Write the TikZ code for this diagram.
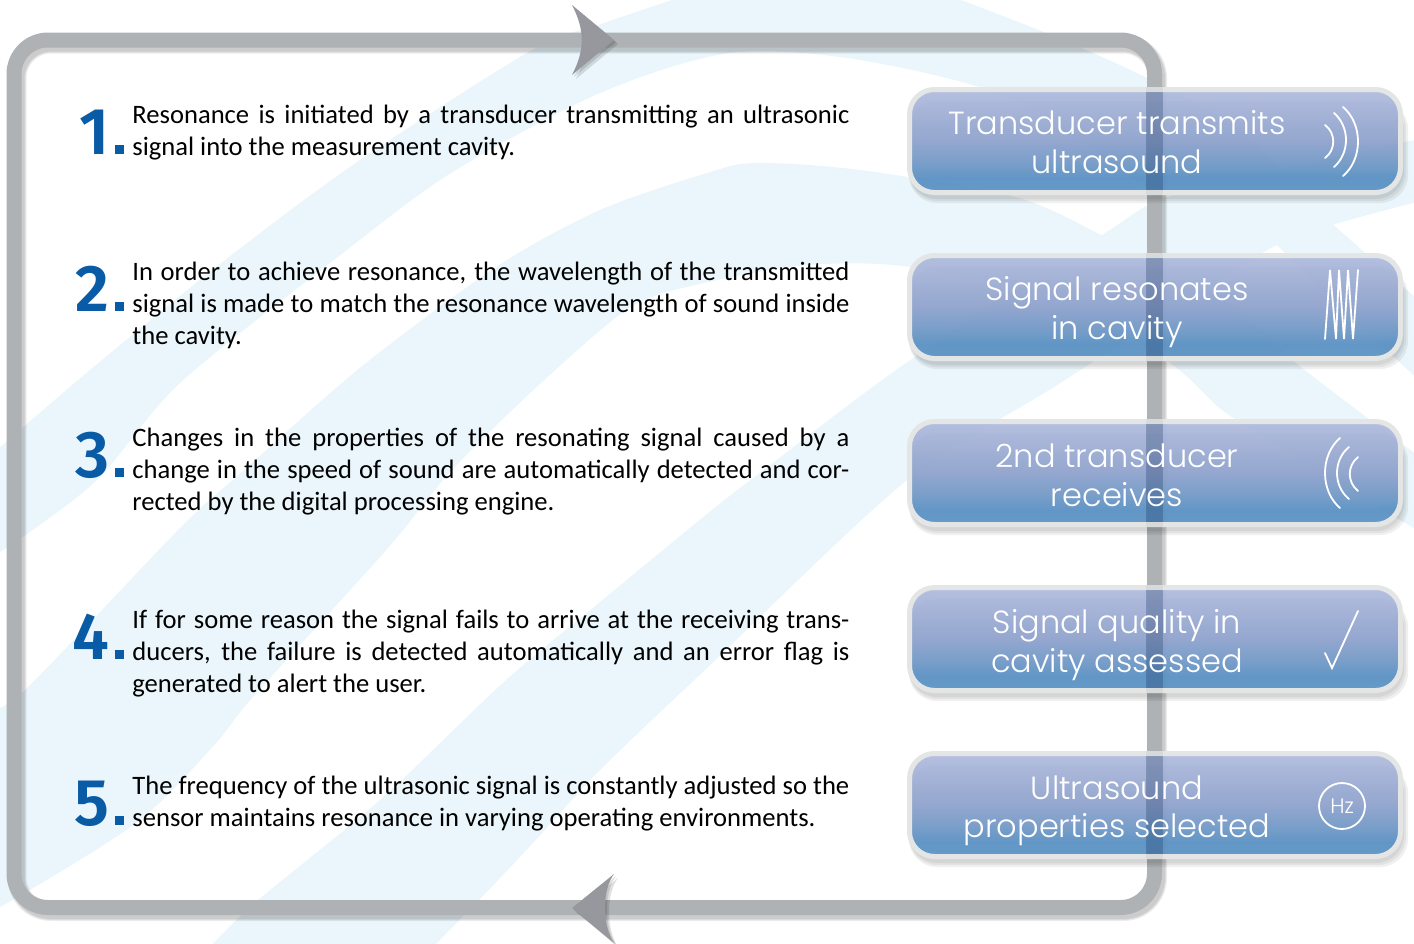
\documentclass[tikz,border=0pt]{standalone}
\usepackage{fontspec}
\usepackage{xcolor}
\usepackage{tikz}
\usetikzlibrary{positioning}
\setmainfont{Carlito}
\newfontfamily\boxfont{Poppins Light}
\newfontfamily\numfont{Fira Sans SemiBold}
\definecolor{swoosh}{HTML}{EAF6FB}
\definecolor{loopgray}{HTML}{AEB2B5}
\definecolor{headgray}{HTML}{96989D}
\definecolor{numblue}{HTML}{0A5BA5}
\definecolor{boxrim}{HTML}{E4E6E6}
\definecolor{boxtop}{HTML}{B1BCDE}
\definecolor{boxmid}{HTML}{90A4CE}
\definecolor{boxlow}{HTML}{6F9AC8}
\definecolor{boxbase}{HTML}{5A92C5}
\definecolor{boxfoot}{HTML}{6096C6}
\definecolor{bardark}{HTML}{1E3F75}
\pgfdeclareverticalshading{boxshade}{100bp}{color(0bp)=(boxfoot); color(25bp)=(boxfoot); color(32bp)=(boxbase); color(38bp)=(boxlow); color(50bp)=(boxmid); color(75bp)=(boxtop); color(100bp)=(boxtop)}
\tikzset{
  steptext/.style={anchor=north west,inner sep=0pt,text width=358.5pt,align=justify,
    font=\fontsize{13.3}{16}\selectfont,execute at begin node=\rule{0pt}{12pt}},
  stepnum/.style={anchor=base east,inner sep=0pt,text=numblue,font=\numfont\fontsize{33}{33}\selectfont},
  stepdot/.style={anchor=south west,inner sep=0pt,minimum size=4.5pt,fill=numblue},
  loopline/.style={line width=7.5pt,rounded corners=17pt},
  signalbox/.style={minimum width=245.5pt,minimum height=51.5pt,inner sep=0pt,rounded corners=12.5pt,
    line width=2.5pt,draw=boxrim,shade,shading=boxshade,fill opacity=.94},
  boxlabel/.style={inner sep=0pt,align=center,text=white,font=\boxfont\fontsize{16}{19.25}\selectfont,
    execute at begin node=\rule{0pt}{14pt},execute at end node=\rule[-4pt]{0pt}{4pt}},
  icon/.style={white,line width=.9pt,line cap=round}
}
\begin{document}
\begin{tikzpicture}[x=0.5pt,y=-0.5pt]
\useasboundingbox (0,0) rectangle (1414,943);
% background swooshes
\fill[swoosh] plot[smooth] coordinates {(-10,456) (90,370) (225,260) (360,160) (532,50) (604,23) (690,-6)}
  -- plot[smooth] coordinates {(945,-6) (1046,33) (1145,77) (1240,130) (1300,190)}
  -- plot[smooth] coordinates {(1150,190) (1015,100) (860,60) (730,53) (600,93) (451,173) (334,260) (180,383) (99,478) (27,534) (-10,558)} -- cycle;
\fill[swoosh] plot[smooth] coordinates {(-10,710) (27,688) (180,528) (243,471) (361,367) (496,267) (600,210) (707,173) (756,163) (860,170) (1015,197) (1101,235) (1230,305) (1296,363) (1357,410) (1424,460)}
  -- plot[smooth] coordinates {(1424,534) (1368,501) (1270,440) (1222,410) (1170,363) (1062,300) (911,267) (808,265) (704,283) (631,307) (541,383) (451,471) (388,548) (252,698) (216,743) (140,820) (30,890) (-10,912)} -- cycle;
\fill[swoosh] plot[smooth] coordinates {(1424,138) (1300,165) (1167,197) (1102,235) (906,363) (761,472) (707,514) (600,602) (505,681) (380,800) (257,901) (207,950)}
  -- plot[smooth] coordinates {(430,950) (478,901) (532,844) (600,770) (707,668) (906,481) (1062,382) (1213,283) (1277,245) (1328,226) (1424,200)} -- cycle;
\fill[swoosh] (1270,235) -- (1328,220) -- (1424,305) -- (1424,385) -- (1333,300) -- (1277,245) -- cycle;
% loop with its soft shadow
\foreach \w in {9.5pt,8.5pt,7.5pt}
\draw[black,opacity=.07,line width=\w,rounded corners=17pt,shift={(3,4)}] (14,40) rectangle (1154.5,907.5);
\draw[loopgray,loopline] (14,40) rectangle (1154.5,907.5);
% arrow heads
\foreach \s in {4,2}
\fill[black,opacity=.12,shift={(\s,\s)}] (572,5) -- (614,40) -- (572,75) .. controls (585,50) and (585,30) .. (572,5);
\fill[headgray] (572,5) -- (614,40) -- (572,75) .. controls (585,50) and (585,30) .. (572,5);
\foreach \s in {4,2}
\fill[black,opacity=.12,shift={(\s,\s)}] (614,874) -- (572,908) -- (614,943) .. controls (602,925) and (602,890) .. (614,874);
\fill[headgray] (614,874) -- (572,908) -- (614,943) .. controls (602,925) and (602,890) .. (614,874);
% numbers and steps
\foreach \n/\y in {1/154,2/311,3/477,4/659,5/825} {
\node[stepnum] (num\n) at (110,\y) {\n};
\node[stepdot] (dot\n) at (115,\y) {};
}
\node[steptext] (step1) at (132,99) {Resonance is initiated by a transducer transmitting an ultrasonic\linebreak signal into the measurement cavity.};
\node[steptext] (step2) at (132,256) {In order to achieve resonance, the wavelength of the transmitted\linebreak signal is made to match the resonance wavelength of sound inside\linebreak the cavity.};
\node[steptext] (step3) at (132,422) {Changes in the properties of the resonating signal caused by a\linebreak change in the speed of sound are automatically detected and cor-\linebreak rected by the digital processing engine.};
\node[steptext] (step4) at (132,604) {If for some reason the signal fails to arrive at the receiving trans-\linebreak ducers, the failure is detected automatically and an error flag is\linebreak generated to alert the user.};
\node[steptext] (step5) at (132,770) {The frequency of the ultrasonic signal is constantly adjusted so the\linebreak sensor maintains resonance in varying operating environments.};
% boxes on the right
\foreach \n/\y/\ly/\txt in {1/141/146/{Transducer transmits\\ultrasound},2/307/312/{Signal resonates\\in cavity},3/473/479/{2nd transducer\\receives},4/639/645/{Signal quality in\\cavity assessed},5/805/811/{Ultrasound\\properties selected}} {
\foreach \s in {5,3,1}
\fill[black,opacity=.06,rounded corners=14pt] (909,\y-40) rectangle (1403+\s,\y+54+\s+3);
\node[signalbox] (box\n) at (1155,\y) {};
\fill[black,opacity=.05] (1146,\y-54) rectangle (1163,\y+54);
\fill[bardark,opacity=.24] (1146,\y-49) rectangle (1163,\y+49);
\node[boxlabel] (label\n) at (1117,\ly) {\txt};
}
% icons
\draw[icon] (1325,125) .. controls (1336,133) and (1336,150) .. (1325,158);
\draw[icon] (1334,113) .. controls (1350,127) and (1350,153) .. (1334,167);
\draw[icon] (1343,107) .. controls (1363,124) and (1363,159) .. (1343,176);
\draw[icon,line join=miter] (1325,339) -- (1330,270) -- (1336,339) -- (1339,270) -- (1344,339) -- (1348,270) -- (1353,339) -- (1358,270);
\draw[icon] (1340,438) .. controls (1320,455) and (1320,491) .. (1340,508);
\draw[icon] (1349,447) .. controls (1333,460) and (1333,486) .. (1349,499);
\draw[icon] (1358,457) .. controls (1347,466) and (1347,482) .. (1358,491);
\draw[icon,line join=miter] (1325,653) -- (1332,668) -- (1358,611);
\node[icon,draw,circle,minimum size=23pt,inner sep=0pt,text=white,font=\boxfont\fontsize{10.5}{12}\selectfont] (hz) at (1342,806) {Hz};
\end{tikzpicture}
\end{document}
